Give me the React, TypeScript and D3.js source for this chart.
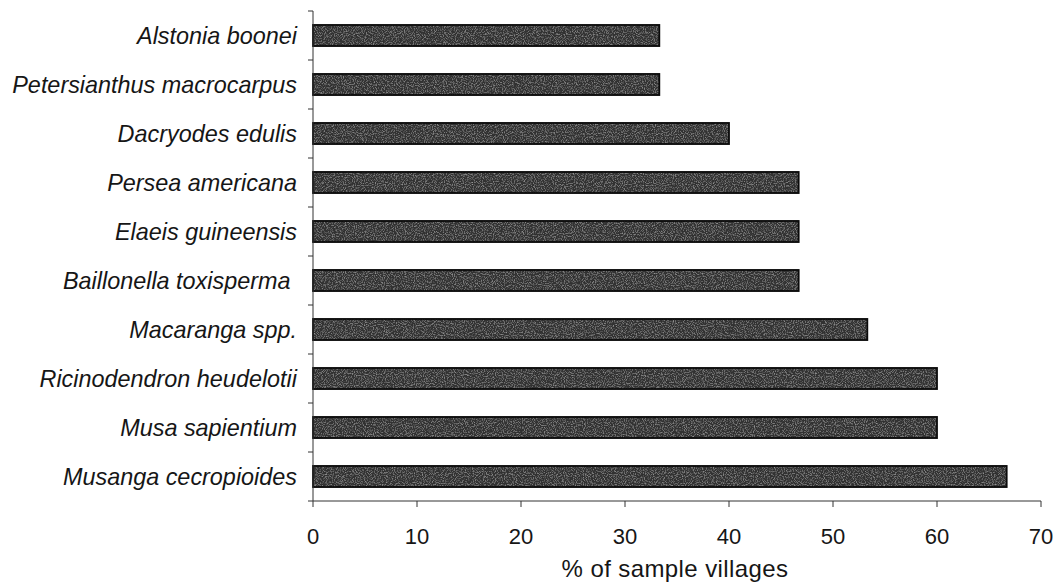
import React from "react";
import * as d3 from "d3";

const species = [
  "Alstonia boonei",
  "Petersianthus macrocarpus",
  "Dacryodes edulis",
  "Persea americana",
  "Elaeis guineensis",
  "Baillonella toxisperma\u00a0",
  "Macaranga spp.",
  "Ricinodendron heudelotii",
  "Musa sapientium",
  "Musanga cecropioides",
];
const values = [33.3, 33.3, 40, 46.7, 46.7, 46.7, 53.3, 60, 60, 66.7];
const xTicks = [0, 10, 20, 30, 40, 50, 60, 70];
const xTitle = "% of sample villages";

const W = 1057;
const H = 588;
const left = 313;
const right = 1041;
const top = 11;
const bottom = 501;

export default function App() {
  const x = d3.scaleLinear().domain([0, 70]).range([left, right]);
  const p = 0.57;
  const y = d3
    .scaleBand<string>()
    .domain(species)
    .range([top, bottom])
    .paddingInner(p)
    .paddingOuter(p / 2);
  const step = y.step();
  const boundaries = d3.range(species.length + 1).map((i) => top + i * step);
  const font = "'Liberation Sans', Arial, sans-serif";

  return (
    <svg
      width={W}
      height={H}
      style={{ position: "absolute", left: 0, top: 0, background: "#fff" }}
    >
      <defs>
        <filter id="grain" x="0" y="0" width="100%" height="100%">
          <feTurbulence type="fractalNoise" baseFrequency="0.9" numOctaves="2" seed="3" result="noise" />
          <feColorMatrix
            in="noise"
            type="matrix"
            values="0 0 0 0 0.42  0 0 0 0 0.42  0 0 0 0 0.42  0 0 0 1.6 -0.75"
            result="gnoise"
          />
          <feComposite in="gnoise" in2="SourceGraphic" operator="in" result="clip" />
          <feMerge>
            <feMergeNode in="SourceGraphic" />
            <feMergeNode in="clip" />
          </feMerge>
        </filter>
      </defs>
      <rect x={0} y={0} width={W} height={H} fill="#fff" />
      {species.map((s, i) => (
        <g key={s}>
          <rect
            x={x(0)}
            y={y(s)!}
            width={x(values[i]) - x(0)}
            height={y.bandwidth()}
            fill="#333"
            filter="url(#grain)"
          />
          <rect
            x={x(0)}
            y={y(s)!}
            width={x(values[i]) - x(0)}
            height={y.bandwidth()}
            fill="none"
            stroke="#0a0a0a"
            strokeWidth={1.8}
          />
          <text
            x={297}
            y={y(s)! + y.bandwidth() / 2}
            textAnchor="end"
            dominantBaseline="central"
            fontFamily={font}
            fontStyle="italic"
            fontSize={23.4}
            fill="#161616"
          >
            {s}
          </text>
        </g>
      ))}
      {/* y axis */}
      <line x1={left} x2={left} y1={top} y2={bottom} stroke="#333" strokeWidth={1} />
      {boundaries.map((b, i) => (
        <line key={i} x1={left - 5} x2={left} y1={b} y2={b} stroke="#333" strokeWidth={1} />
      ))}
      {/* x axis */}
      <line x1={left} x2={right} y1={bottom} y2={bottom} stroke="#333" strokeWidth={1} />
      {xTicks.map((t) => (
        <g key={t}>
          <line x1={x(t)} x2={x(t)} y1={bottom} y2={bottom + 6} stroke="#333" strokeWidth={1} />
          <text
            x={x(t)}
            y={536}
            textAnchor="middle"
            dominantBaseline="central"
            fontFamily={font}
            fontSize={22}
            fill="#161616"
          >
            {t}
          </text>
        </g>
      ))}
      <text
        x={675}
        y={577}
        textAnchor="middle"
        fontFamily={font}
        fontSize={24}
        letterSpacing={0.4}
        fill="#161616"
      >
        {xTitle}
      </text>
    </svg>
  );
}
